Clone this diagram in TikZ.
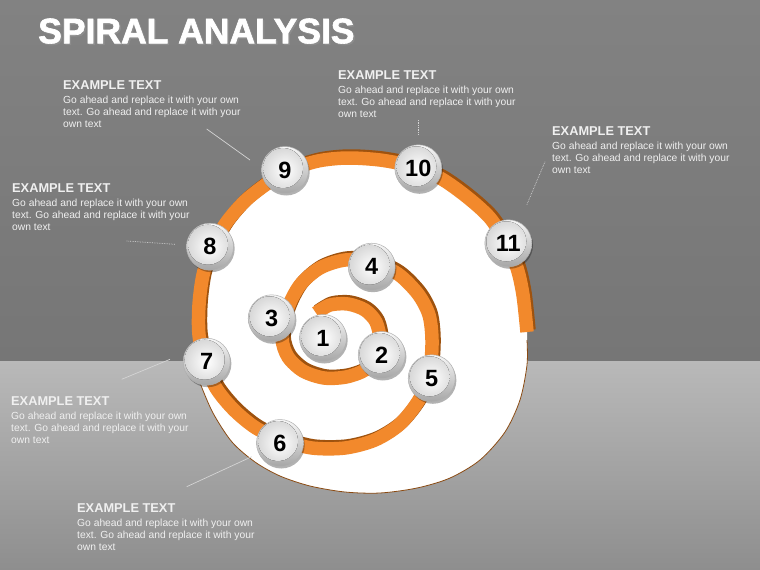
\documentclass[tikz,border=0pt]{standalone}
\usepackage{fontspec}
\setmainfont{Liberation Sans}
\newfontfamily\titlefont[FakeBold=1.8]{Liberation Sans Bold}
\usetikzlibrary{shadows}
\definecolor{bgtop}{HTML}{828282}
\definecolor{bgmid}{HTML}{767676}
\definecolor{floortop}{HTML}{B9B9B9}
\definecolor{floorbot}{HTML}{8E8E8E}
\definecolor{bandorange}{HTML}{F2892C}
\definecolor{banddark}{HTML}{9E520E}
\definecolor{outlinebrown}{HTML}{8A4A12}
\definecolor{txtcol}{HTML}{F0F0F0}
\definecolor{leadcol}{HTML}{D4D4D4}
\definecolor{ballhi}{HTML}{F8F8F8}
\definecolor{balllo}{HTML}{A6A6A6}
\definecolor{ballmid}{HTML}{D6D6D6}
\definecolor{ballrim}{HTML}{B0B0B0}
\newcommand\ExampleBlock{\vtop{\baselineskip=12.3pt\lineskiplimit=-20pt\lineskip=0pt
  \hbox{\bfseries\fontsize{12.8}{14}\selectfont EXAMPLE TEXT}\vskip1.7pt
  \hbox{Go ahead and replace it with your own}%
  \hbox{text. Go ahead and replace it with your}%
  \hbox{own text}}}
\tikzset{
  textblock/.style={inner sep=0pt, text=txtcol, font=\fontsize{10.3}{12.3}\selectfont, anchor=base west},
  leader/.style={draw=leadcol, line width=0.7pt},
  dotleader/.style={leader, densely dotted},
  ballnode/.style={circle, minimum size=47pt, inner sep=0pt, draw=ballrim, line width=0.5pt,
    top color=ballhi, bottom color=balllo,
    font=\fontsize{23.5}{23.5}\selectfont\bfseries, text=black,
    drop shadow={shadow xshift=1.2pt, shadow yshift=-2pt, opacity=0.3, fill=black},
    path picture={\fill[inner color=white, outer color=ballmid]
      ([xshift=-2pt,yshift=2pt]path picture bounding box.center) circle (20pt);}},
  bandline/.style={line width=13.5pt, line join=round},
}
\begin{document}
\begin{tikzpicture}[x=1pt,y=-1pt]
\useasboundingbox (0,0) rectangle (760,570);
% background
\fill[top color=bgtop, bottom color=bgmid] (0,0) rectangle (760,361);
\fill[top color=floortop, bottom color=floorbot] (0,361) rectangle (760,570);
% white disc
\fill[white] plot[smooth] coordinates {(205,362) (199,335) (199,305) (203,275) (212,248) (226,223) (245,201) (268,183) (290,170) (318,161) (347,158) (380,160) (410,166) (440,178) (467,197) (490,218) (506,243) (517,268) (523,295) (527,332)}
  -- plot[smooth] coordinates {(527,340) (527,365) (520,400) (505,432) (480,460) (450,478) (417,488) (380,493) (345,492) (310,486) (280,476) (255,462) (232,442) (213,413) (200,383) (198,376)} -- cycle;
\draw[outlinebrown, line width=0.8pt] plot[smooth] coordinates {(198,376) (200,383) (213,413) (232,442) (255,462) (280,476) (310,486) (345,492) (380,493) (417,488) (450,478) (480,460) (505,432) (520,400) (527,365) (527,340)};
% spiral band
\foreach \bandcol/\dx/\dy in {banddark/2/-2, bandorange/0/0}{
\draw[bandline, \bandcol, shift={(\dx,\dy)}] plot[smooth] coordinates {
 (316,313) (330,305) (348,304) (365,310) (376,322) (380,340) (376,357) (365,370) (346,377) (324,378) (303,371) (288,357) (282,338)
 (287,310) (300,285) (320,268) (345,260) (372,262) (398,274) (418,294) (429,315) (432,340) (430,368) (420,398) (400,424) (375,440) (345,448) (312,448) (282,440)
 (256,428) (234,410) (216,388) (205,362) (199,335) (199,305) (203,275) (212,248) (226,223) (245,201) (268,183) (290,170) (318,161) (347,158) (380,160) (410,166) (440,178) (467,197) (490,218) (506,243) (517,268) (523,295) (527,332)};
}
% title
\node[anchor=base west, inner sep=0pt, text=black!45, font=\titlefont\fontsize{35.5}{36}\selectfont] (titleshadow) at (39.5,44.8) {SPIRAL ANALYSIS};
\node[anchor=base west, inner sep=0pt, text=white, font=\titlefont\fontsize{35.5}{36}\selectfont] (title) at (38,43.3) {SPIRAL ANALYSIS};
% text blocks
\node[textblock] (tA) at (63,89.3) {\ExampleBlock};
\node[textblock] (tB) at (12,192) {\ExampleBlock};
\node[textblock] (tC) at (338,79.3) {\ExampleBlock};
\node[textblock] (tD) at (552,135) {\ExampleBlock};
\node[textblock] (tE) at (11,405.3) {\ExampleBlock};
\node[textblock] (tF) at (77,512) {\ExampleBlock};
% leaders
\coordinate (la1) at (206.7,129); \coordinate (la2) at (250,160);
\coordinate (lb1) at (126.7,241); \coordinate (lb2) at (175,244.3);
\coordinate (lc1) at (418.3,120); \coordinate (lc2) at (418.3,135);
\coordinate (ld1) at (545,161.7); \coordinate (ld2) at (526.7,205);
\coordinate (le1) at (121.7,379.3); \coordinate (le2) at (170,359.3);
\coordinate (lf1) at (186.7,486.7); \coordinate (lf2) at (251.7,456.7);
\draw[leader] (la1) -- (la2);
\draw[dotleader] (lb1) -- (lb2);
\draw[dotleader] (lc1) -- (lc2);
\draw[dotleader] (ld1) -- (ld2);
\draw[leader] (le1) -- (le2);
\draw[leader] (lf1) -- (lf2);
% balls
\node[ballnode] (b1) at (323,338) {1};
\node[ballnode] (b2) at (381.7,355) {2};
\node[ballnode] (b3) at (271.7,318.3) {3};
\node[ballnode] (b4) at (371.7,266.7) {4};
\node[ballnode] (b5) at (431.7,378.3) {5};
\node[ballnode] (b6) at (280,443) {6};
\node[ballnode] (b7) at (206.7,361.7) {7};
\node[ballnode] (b8) at (210,246.7) {8};
\node[ballnode] (b9) at (285,170) {9};
\node[ballnode] (b10) at (418.3,168.3) {10};
\node[ballnode] (b11) at (508.3,243.3) {11};
\end{tikzpicture}
\end{document}
